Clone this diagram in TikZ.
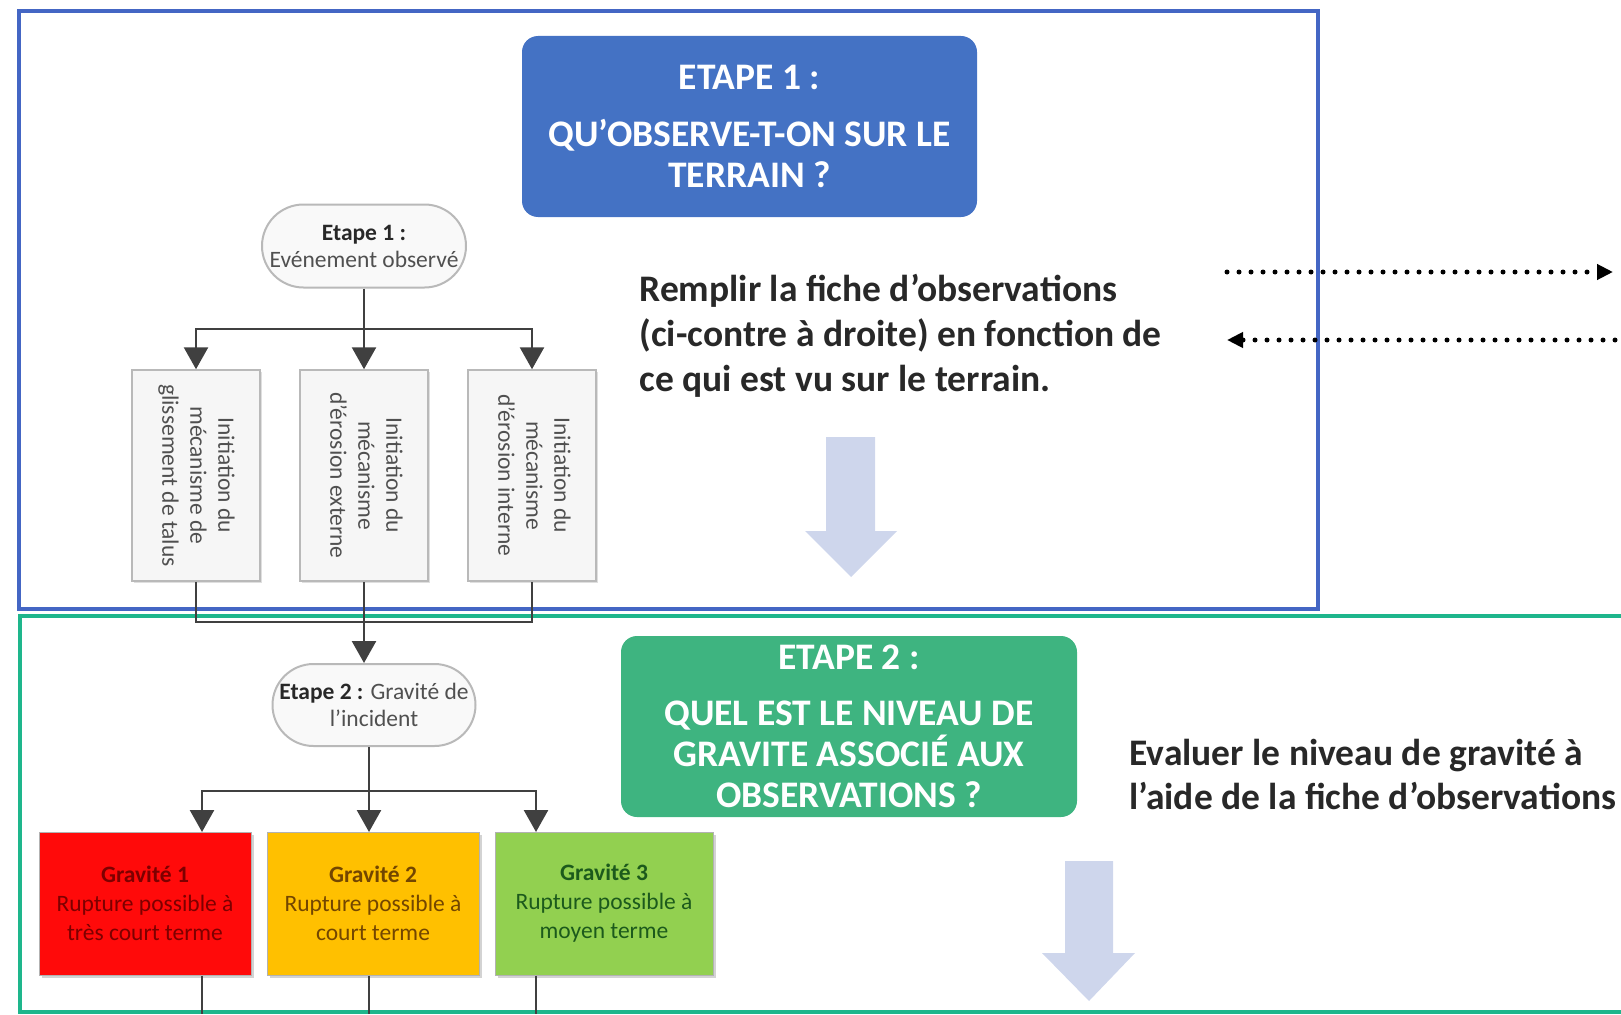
\documentclass[tikz,border=0pt]{standalone}
\usepackage{fontspec}
\usepackage{graphicx}
\setmainfont{Carlito}
\usetikzlibrary{arrows.meta,shapes.misc,shadows}

\definecolor{frameblue}{RGB}{68,102,196}
\definecolor{framegreen}{RGB}{30,182,140}
\definecolor{stepblue}{RGB}{68,114,196}
\definecolor{stepgreen}{RGB}{62,180,128}
\definecolor{connector}{RGB}{64,64,64}
\definecolor{bigarrow}{RGB}{206,214,236}
\definecolor{bodyink}{RGB}{40,40,40}
\definecolor{boxink}{RGB}{80,80,80}
\definecolor{gravred}{RGB}{255,10,10}
\definecolor{gravorange}{RGB}{255,192,0}
\definecolor{gravgreen}{RGB}{146,208,80}
\definecolor{inkred}{RGB}{125,0,0}
\definecolor{inkorange}{RGB}{115,70,0}
\definecolor{inkgreen}{RGB}{28,90,28}

\tikzset{
  headbox/.style={rounded corners=16pt, text=white, align=center,
    font=\fontsize{37.5}{41}\selectfont\bfseries},
  bodytext/.style={text=bodyink, align=left,
    font=\fontsize{37.5}{45}\selectfont\bfseries},
  stadium/.style={rounded rectangle, draw=gray!55, line width=2pt,
    fill=gray!5, align=center, text=boxink, inner xsep=4pt,
    font=\fontsize{23.5}{27}\selectfont},
  mechbox/.style={draw=gray!55, line width=1.5pt, fill=gray!7,
    minimum width=128pt, minimum height=211pt, inner sep=0pt, text=boxink,
    drop shadow={shadow xshift=2pt, shadow yshift=-2pt, opacity=0.25},
    font=\fontsize{23.5}{28}\selectfont},
  gravbox/.style={draw=gray!60, line width=1pt, minimum height=143pt,
    align=center, inner sep=0pt,
    drop shadow={shadow xshift=3pt, shadow yshift=-3pt, opacity=0.35},
    font=\fontsize{23.5}{29}\selectfont},
  conn/.style={draw=connector, line width=2.6pt},
  arr/.style={-{Triangle[width=24pt,length=22pt]}},
  dotarrow/.style={line width=5pt, line cap=round,
    dash pattern=on 0pt off 12pt, -{Triangle[width=15pt,length=16pt]}},
}

\begin{document}
\begin{tikzpicture}[x=1pt,y=-1pt]
\useasboundingbox (0,0) rectangle (1621,1014);

% section frames
\draw[frameblue, line width=3.5pt] (19,11) rectangle (1318,609);
\draw[framegreen, line width=3.5pt] (1621,616) -- (20,616) -- (20,1012) -- (1621,1012);

% step headings
\node[headbox, fill=stepblue, minimum width=455pt, minimum height=181pt] (h1)
  at (749.5,126.5) {ETAPE 1 :\\[16pt]QU’OBSERVE-T-ON SUR LE\\TERRAIN ?};
\node[headbox, fill=stepgreen, minimum width=456pt, minimum height=181pt] (h2)
  at (849,726.5) {ETAPE 2 :\\[15pt]QUEL EST LE NIVEAU DE\\GRAVITE ASSOCIÉ AUX\\OBSERVATIONS ?};

% instructions
\node[bodytext, anchor=west] (fill) at (636,336)
  {Remplir la fiche d’observations\\(ci-contre à droite) en fonction de\\ce qui est vu sur le terrain.};
\node[bodytext, anchor=west, font=\fontsize{37.5}{44}\selectfont\bfseries] (eval) at (1126,774)
  {Evaluer le niveau de gravité à\\l’aide de la fiche d’observations};

% exchange with the observation sheet
\coordinate (out1) at (1227,272);
\coordinate (out2) at (1613,272);
\coordinate (back1) at (1615,340);
\coordinate (back2) at (1227,340);
\draw[dotarrow] (out1) -- (out2);
\draw[dotarrow] (back1) -- (back2);

% large downward arrows
\fill[bigarrow] (826,437) -- (875,437) -- (875,531) -- (897,531) -- (851,577)
  -- (805,531) -- (826,531) -- cycle;
\fill[bigarrow] (1065,861) -- (1113,861) -- (1113,953) -- (1135,953) -- (1089,1001)
  -- (1042,953) -- (1065,953) -- cycle;

% step 1 tree
\node[stadium, minimum width=212pt, minimum height=83pt] (ev1) at (364,246)
  {\textbf{\color{bodyink}Etape 1 :}\\Evénement observé};
\node[mechbox] (b1) at (196,475.5)
  {\rotatebox[origin=c]{-90}{\begin{tabular}{@{}c@{}}Initiation du\\mécanisme de\\glissement de talus\end{tabular}}};
\node[mechbox] (b2) at (364,475.5)
  {\rotatebox[origin=c]{-90}{\begin{tabular}{@{}c@{}}Initiation du\\mécanisme\\d’érosion externe\end{tabular}}};
\node[mechbox] (b3) at (532,475.5)
  {\rotatebox[origin=c]{-90}{\begin{tabular}{@{}c@{}}Initiation du\\mécanisme\\d’érosion interne\end{tabular}}};

\coordinate (j1) at (364,329);
\draw[conn] (ev1.south) -- (j1);
\draw[conn, arr] (j1) -| (b1.north);
\draw[conn, arr] (j1) -| (b3.north);
\draw[conn, arr] (j1) -- (b2.north);

% step 2 tree
\node[stadium, minimum width=211pt, minimum height=82pt] (ev2) at (374,705)
  {\textbf{\color{bodyink}Etape 2 :} Gravité de\\l’incident};

\coordinate (j2) at (364,622);
\draw[conn] (b1.south) |- (j2) -| (b3.south);
\draw[conn, arr] (b2.south) -- (b2.south |- ev2.north);

\node[gravbox, fill=gravred, minimum width=212pt, text=inkred] (g1) at (145,903.5)
  {\textbf{Gravité 1}\\Rupture possible à\\très court terme};
\node[gravbox, fill=gravorange, minimum width=212pt, text=inkorange] (g2) at (373,903.5)
  {\textbf{Gravité 2}\\Rupture possible à\\court terme};
\node[gravbox, fill=gravgreen, minimum width=218pt, text=inkgreen] (g3) at (604,903.5)
  {\textbf{Gravité 3}\\Rupture possible à\\moyen terme};

\coordinate (j3) at (369,791);
\coordinate (k1) at (202,832);
\coordinate (k2) at (369,832);
\coordinate (k3) at (536,832);
\draw[conn] (j3 |- ev2.south) -- (j3);
\draw[conn, arr] (j3) -| (k1);
\draw[conn, arr] (j3) -| (k3);
\draw[conn, arr] (j3) -- (k2);

% continuation below the severity boxes
\coordinate (m1) at (202,1014);
\coordinate (m2) at (369,1014);
\coordinate (m3) at (536,1014);
\draw[conn] (g1.south -| m1) -- (m1);
\draw[conn] (g2.south -| m2) -- (m2);
\draw[conn] (g3.south -| m3) -- (m3);
\end{tikzpicture}
\end{document}
